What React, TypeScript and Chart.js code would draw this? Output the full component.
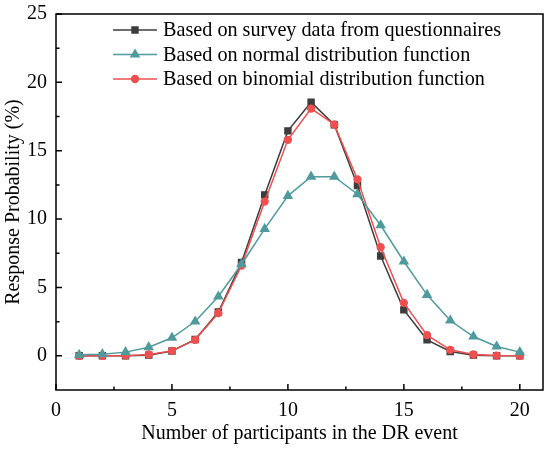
import React, { useEffect, useRef } from "react";
import { Chart, registerables } from "chart.js";
import { drawPoint } from "chart.js/helpers";

Chart.register(...registerables);

// number of participants (x) and response probability in % for each curve
const participants = [1, 2, 3, 4, 5, 6, 7, 8, 9, 10, 11, 12, 13, 14, 15, 16, 17, 18, 19, 20];
const surveyData = [0, 0, 0, 0.05, 0.35, 1.2, 3.2, 6.82, 11.77, 16.45, 18.55, 16.9, 12.45, 7.3, 3.36, 1.17, 0.32, 0.05, 0, 0];
const normalData = [0.07, 0.12, 0.27, 0.63, 1.32, 2.51, 4.34, 6.7, 9.28, 11.7, 13.1, 13.1, 11.82, 9.55, 6.9, 4.46, 2.58, 1.41, 0.68, 0.27];
const binomialData = [0, 0, 0.01, 0.1, 0.36, 1.17, 3.12, 6.6, 11.28, 15.8, 18.08, 16.92, 12.9, 7.94, 3.87, 1.51, 0.44, 0.1, 0.02, 0];

const seriesLabels = [
  "Based on survey data from questionnaires",
  "Based on normal distribution function",
  "Based on binomial distribution function",
];

const xTicks = [0, 5, 10, 15, 20];
const yTicks = [0, 5, 10, 15, 20, 25];
const xMinorTicks = [2.5, 7.5, 12.5, 17.5];
const yMinorTicks = [2.5, 7.5, 12.5, 17.5, 22.5];

const FONT = "'Times New Roman', 'Liberation Serif', serif";

const toPoints = (ys: number[]) => participants.map((x, i) => ({ x, y: ys[i] }));

// frame around the plot, inward ticks, and a line+marker legend
const framePlugin = {
  id: "frameTicks",
  afterDraw(chart: any) {
    const { ctx, chartArea: a, scales } = chart;
    const xs = scales.x;
    const ys = scales.y;
    ctx.save();
    ctx.strokeStyle = "#000";
    ctx.lineWidth = 1.5;
    ctx.strokeRect(a.left, a.top, a.right - a.left, a.bottom - a.top);

    ctx.beginPath();
    xTicks.forEach((v) => {
      const px = xs.getPixelForValue(v);
      ctx.moveTo(px, a.bottom);
      ctx.lineTo(px, a.bottom - 6);
    });
    xMinorTicks.forEach((v) => {
      const px = xs.getPixelForValue(v);
      ctx.moveTo(px, a.bottom);
      ctx.lineTo(px, a.bottom - 3.5);
    });
    yTicks.forEach((v) => {
      const py = ys.getPixelForValue(v);
      ctx.moveTo(a.left, py);
      ctx.lineTo(a.left + 6, py);
    });
    yMinorTicks.forEach((v) => {
      const py = ys.getPixelForValue(v);
      ctx.moveTo(a.left, py);
      ctx.lineTo(a.left + 3.5, py);
    });
    ctx.stroke();

    // legend
    chart.data.datasets.forEach((ds: any, i: number) => {
      const y = a.top + 16 + i * 24.5;
      const x0 = a.left + 57;
      ctx.strokeStyle = ds.borderColor;
      ctx.fillStyle = ds.backgroundColor;
      ctx.lineWidth = 1.5;
      ctx.beginPath();
      ctx.moveTo(x0, y);
      ctx.lineTo(x0 + 44, y);
      ctx.stroke();
      drawPoint(ctx, { pointStyle: ds.pointStyle, radius: ds.pointRadius, rotation: 0, borderWidth: 1 }, x0 + 22, y);
      ctx.fillStyle = "#000";
      ctx.font = `20.2px ${FONT}`;
      ctx.textBaseline = "middle";
      ctx.textAlign = "left";
      ctx.fillText(ds.label, x0 + 50, y + 1);
    });
    ctx.restore();
  },
};

const App: React.FC = () => {
  const canvasRef = useRef<HTMLCanvasElement | null>(null);

  useEffect(() => {
    if (!canvasRef.current) return;
    const chart = new Chart(canvasRef.current, {
      type: "line",
      data: {
        datasets: [
          {
            label: seriesLabels[0],
            data: toPoints(surveyData),
            borderColor: "#3d3d3d",
            backgroundColor: "#3d3d3d",
            pointStyle: "rect",
            pointRadius: 4.2,
            borderWidth: 1.5,
            order: 2,
          },
          {
            label: seriesLabels[1],
            data: toPoints(normalData),
            borderColor: "#4f9a9c",
            backgroundColor: "#4f9a9c",
            pointStyle: "triangle",
            pointRadius: 4.6,
            borderWidth: 1.5,
            order: 0,
          },
          {
            label: seriesLabels[2],
            data: toPoints(binomialData),
            borderColor: "#f04f50",
            backgroundColor: "#f04f50",
            pointStyle: "circle",
            pointRadius: 3.4,
            borderWidth: 1.5,
            order: 1,
          },
        ],
      },
      options: {
        animation: false,
        responsive: true,
        maintainAspectRatio: false,
        layout: { padding: { top: 14, right: 7, left: 0, bottom: 0 } },
        plugins: { legend: { display: false }, tooltip: { enabled: false } },
        scales: {
          x: {
            type: "linear",
            min: 0,
            max: 21,
            grid: { display: false, drawTicks: false },
            border: { display: false },
            afterBuildTicks: (s: any) => {
              s.ticks = xTicks.map((value) => ({ value }));
            },
            afterFit: (s: any) => {
              s.height = 62;
              s.paddingLeft = 0;
              s.paddingRight = 0;
            },
            ticks: { padding: 9, color: "#000", maxRotation: 0, font: { family: FONT, size: 20 } },
            title: {
              display: true,
              text: "Number of participants in the DR event",
              color: "#000",
              padding: { top: 0, bottom: 6 },
              font: { family: FONT, size: 20 },
            },
          },
          y: {
            type: "linear",
            min: -2.5,
            max: 25,
            grid: { display: false, drawTicks: false },
            border: { display: false },
            afterBuildTicks: (s: any) => {
              s.ticks = yTicks.map((value) => ({ value }));
            },
            afterFit: (s: any) => {
              s.width = 56;
              s.paddingTop = 0;
              s.paddingBottom = 0;
            },
            ticks: { padding: 9, color: "#000", font: { family: FONT, size: 20 } },
            title: {
              display: true,
              text: "Response Probability (%)",
              color: "#000",
              padding: { top: 2, bottom: 0 },
              font: { family: FONT, size: 20 },
            },
          },
        },
      },
      plugins: [framePlugin],
    });
    return () => chart.destroy();
  }, []);

  return (
    <div style={{ position: "absolute", left: 0, top: 0, width: 550, height: 452, background: "#fff" }}>
      <canvas ref={canvasRef}></canvas>
    </div>
  );
};

export default App;
